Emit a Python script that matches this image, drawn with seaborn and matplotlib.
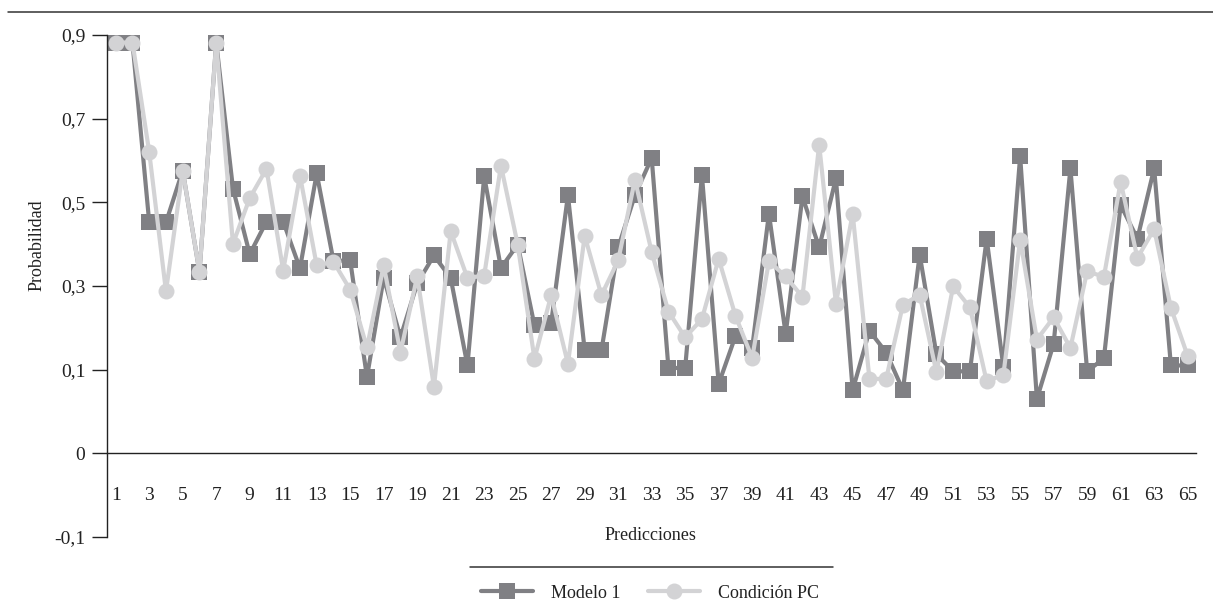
import matplotlib
matplotlib.use("Agg")
import matplotlib.pyplot as plt
from matplotlib.lines import Line2D
import seaborn as sns

# Values (Probabilidad per prediction)
predicciones = list(range(1, 66))
modelo_1 = [0.882, 0.882, 0.452, 0.452, 0.576, 0.333, 0.882, 0.533, 0.376, 0.454,
            0.454, 0.342, 0.569, 0.360, 0.361, 0.082, 0.320, 0.177, 0.306, 0.373,
            0.319, 0.110, 0.562, 0.343, 0.399, 0.206, 0.212, 0.517, 0.146, 0.146,
            0.392, 0.517, 0.606, 0.104, 0.104, 0.565, 0.066, 0.180, 0.152, 0.473,
            0.185, 0.514, 0.392, 0.557, 0.051, 0.193, 0.141, 0.051, 0.375, 0.137,
            0.096, 0.096, 0.413, 0.106, 0.610, 0.030, 0.162, 0.581, 0.096, 0.127,
            0.494, 0.413, 0.581, 0.110, 0.110]
condicion_pc = [0.882, 0.882, 0.620, 0.287, 0.576, 0.333, 0.882, 0.401, 0.510, 0.580,
                0.337, 0.564, 0.349, 0.358, 0.291, 0.153, 0.349, 0.141, 0.323, 0.059,
                0.431, 0.319, 0.325, 0.588, 0.399, 0.126, 0.278, 0.114, 0.420, 0.278,
                0.361, 0.554, 0.381, 0.239, 0.177, 0.221, 0.365, 0.229, 0.128, 0.359,
                0.323, 0.274, 0.638, 0.258, 0.473, 0.078, 0.078, 0.255, 0.279, 0.094,
                0.299, 0.249, 0.072, 0.088, 0.411, 0.172, 0.225, 0.152, 0.335, 0.322,
                0.549, 0.367, 0.436, 0.248, 0.133]

# y axis as printed in the original (evenly spaced labels)
ytick_pos = [0.9, 0.7, 0.5, 0.3, 0.1, -0.1, -0.3]
ytick_labels = ["0,9", "0,7", "0,5", "0,3", "0,1", "0", "-0,1"]

sns.set_style("white")
plt.rcParams["font.family"] = ["Liberation Serif", "DejaVu Serif"]

fig = plt.figure(figsize=(12.13, 6.01), dpi=100)
ax = fig.add_axes([0.0885, 0.1065, 0.8975, 0.8353])

sns.lineplot(x=predicciones, y=modelo_1, ax=ax, color="#808084", linewidth=3.0,
             marker="s", markersize=11.5, markeredgewidth=0, label="Modelo 1", clip_on=False)
sns.lineplot(x=predicciones, y=condicion_pc, ax=ax, color="#d3d3d5", linewidth=3.0,
             marker="o", markersize=11.5, markeredgewidth=0, label="Condición PC", clip_on=False)

ax.spines["top"].set_visible(False)
ax.spines["right"].set_visible(False)
ax.spines["bottom"].set_position(("data", -0.1))
for s in ["left", "bottom"]:
    ax.spines[s].set_color("#222222")
    ax.spines[s].set_linewidth(1.0)

ax.set_xlim(0.5, 65.5)
ax.set_ylim(-0.3, 0.9)
ax.set_xticks(predicciones[::2])
ax.set_xticklabels([str(p) for p in predicciones[::2]])
ax.set_yticks(ytick_pos)
ax.set_yticklabels(ytick_labels)
ax.set_xlabel("")
ax.set_ylabel("")
ax.tick_params(axis="x", length=0, pad=24, labelsize=14, labelcolor="#222222")
ax.tick_params(axis="y", length=10.8, width=1.0, color="#222222", direction="out",
               pad=5, left=True, labelsize=14, labelcolor="#222222")

fig.text(650 / 1213, 1 - 535 / 601, "Predicciones", ha="center", va="center",
         fontsize=13, color="#222222")
fig.text(37 / 1213, 1 - 245 / 601, "Probabilidad", ha="center", va="center",
         rotation=90, fontsize=13, color="#222222")

ax.legend(loc="center", bbox_to_anchor=(650 / 1213, 1 - 593 / 601),
          bbox_transform=fig.transFigure, ncol=2, frameon=False, fontsize=13,
          handlelength=2.9, handletextpad=1.0, columnspacing=1.5, labelcolor="#222222")

# horizontal rules: top of the figure and above the legend
fig.add_artist(Line2D([8 / 1213, 1.0], [1 - 12.3 / 601] * 2, color="#333333",
                      linewidth=1.1, transform=fig.transFigure))
fig.add_artist(Line2D([470 / 1213, 833 / 1213], [1 - 566.7 / 601] * 2, color="#333333",
                      linewidth=1.1, transform=fig.transFigure))

plt.savefig("out.png", dpi=100)
